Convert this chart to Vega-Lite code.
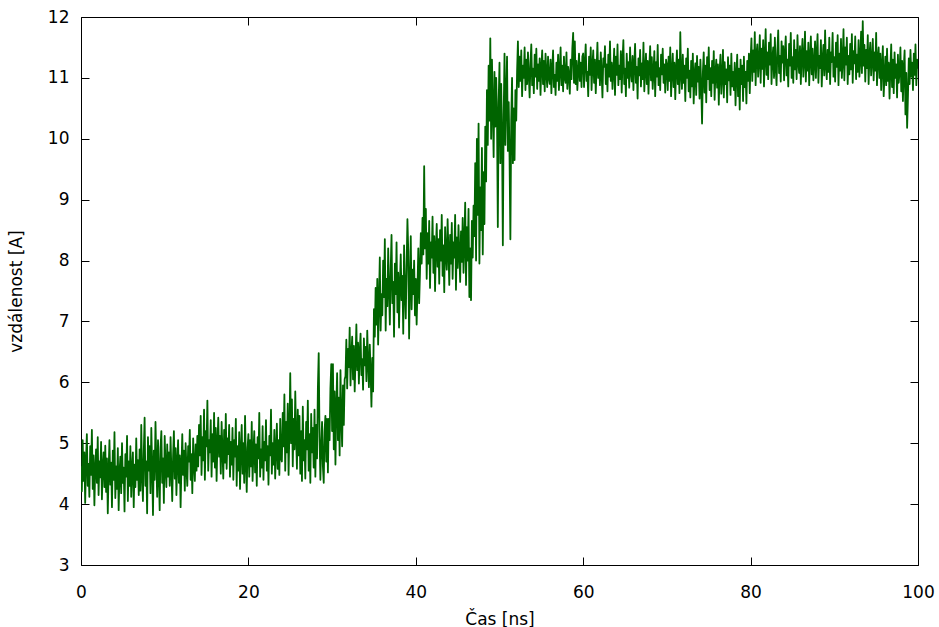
{
  "$schema": "https://vega.github.io/schema/vega-lite/v6.json",
  "width": 837,
  "height": 548,
  "autosize": {"type": "none"},
  "padding": {"left": 81, "top": 17, "right": 21, "bottom": 62},
  "background": "white",
  "datasets": {
    "traj": [
{"t":0,"d":4.62},{"t":0.1,"d":4.21},{"t":0.2,"d":5.05},{"t":0.3,"d":4.38},{"t":0.4,"d":4.85},{"t":0.5,"d":4.02},{"t":0.6,"d":4.71},{"t":0.7,"d":5.15},{"t":0.8,"d":4.30},{"t":0.9,"d":4.66},
{"t":1.0,"d":4.12},{"t":1.1,"d":4.95},{"t":1.2,"d":4.48},{"t":1.3,"d":5.22},{"t":1.4,"d":4.25},{"t":1.5,"d":4.80},{"t":1.6,"d":3.98},{"t":1.7,"d":4.58},{"t":1.8,"d":4.90},{"t":1.9,"d":4.35},
{"t":2.0,"d":5.10},{"t":2.1,"d":4.15},{"t":2.2,"d":4.70},{"t":2.3,"d":4.44},{"t":2.4,"d":5.02},{"t":2.5,"d":4.08},{"t":2.6,"d":4.62},{"t":2.7,"d":4.85},{"t":2.8,"d":4.28},{"t":2.9,"d":4.96},
{"t":3.0,"d":4.20},{"t":3.1,"d":4.75},{"t":3.2,"d":3.85},{"t":3.3,"d":4.55},{"t":3.4,"d":5.05},{"t":3.5,"d":4.32},{"t":3.6,"d":4.68},{"t":3.7,"d":3.95},{"t":3.8,"d":4.88},{"t":3.9,"d":4.40},
{"t":4.0,"d":5.18},{"t":4.1,"d":4.10},{"t":4.2,"d":4.62},{"t":4.3,"d":4.25},{"t":4.4,"d":4.92},{"t":4.5,"d":3.90},{"t":4.6,"d":4.50},{"t":4.7,"d":4.78},{"t":4.8,"d":4.18},{"t":4.9,"d":5.00},
{"t":5.0,"d":4.35},{"t":5.1,"d":4.60},{"t":5.2,"d":3.88},{"t":5.3,"d":4.82},{"t":5.4,"d":4.45},{"t":5.5,"d":5.12},{"t":5.6,"d":4.05},{"t":5.7,"d":4.70},{"t":5.8,"d":4.30},{"t":5.9,"d":4.95},
{"t":6.0,"d":4.12},{"t":6.1,"d":4.58},{"t":6.2,"d":4.85},{"t":6.3,"d":3.95},{"t":6.4,"d":4.65},{"t":6.5,"d":4.28},{"t":6.6,"d":5.08},{"t":6.7,"d":4.40},{"t":6.8,"d":4.72},{"t":6.9,"d":4.15},
{"t":7.0,"d":4.90},{"t":7.1,"d":4.22},{"t":7.2,"d":5.30},{"t":7.3,"d":4.48},{"t":7.4,"d":4.05},{"t":7.5,"d":4.85},{"t":7.6,"d":5.42},{"t":7.7,"d":4.30},{"t":7.8,"d":4.70},{"t":7.9,"d":3.85},
{"t":8.0,"d":5.10},{"t":8.1,"d":4.55},{"t":8.2,"d":4.95},{"t":8.3,"d":4.18},{"t":8.4,"d":5.25},{"t":8.5,"d":4.62},{"t":8.6,"d":3.82},{"t":8.7,"d":4.88},{"t":8.8,"d":4.40},{"t":8.9,"d":5.35},
{"t":9.0,"d":4.70},{"t":9.1,"d":4.12},{"t":9.2,"d":5.05},{"t":9.3,"d":4.50},{"t":9.4,"d":3.90},{"t":9.5,"d":4.92},{"t":9.6,"d":5.20},{"t":9.7,"d":4.35},{"t":9.8,"d":4.75},{"t":9.9,"d":4.02},
{"t":10.0,"d":5.12},{"t":10.1,"d":4.60},{"t":10.2,"d":4.28},{"t":10.3,"d":4.98},{"t":10.4,"d":4.45},
{"t":10.5,"d":4.85},{"t":10.6,"d":4.30},{"t":10.7,"d":5.10},{"t":10.8,"d":4.55},{"t":10.9,"d":4.05},{"t":11.0,"d":4.78},{"t":11.1,"d":5.20},{"t":11.2,"d":4.42},{"t":11.3,"d":4.92},{"t":11.4,"d":4.15},
{"t":11.5,"d":4.68},{"t":11.6,"d":5.05},{"t":11.7,"d":4.35},{"t":11.8,"d":4.80},{"t":11.9,"d":3.95},{"t":12.0,"d":4.62},{"t":12.1,"d":5.15},{"t":12.2,"d":4.48},{"t":12.3,"d":4.88},{"t":12.4,"d":4.22},
{"t":12.5,"d":5.00},{"t":12.6,"d":4.58},{"t":12.7,"d":4.30},{"t":12.8,"d":4.95},{"t":12.9,"d":4.70},{"t":13.0,"d":5.22},{"t":13.1,"d":4.40},{"t":13.2,"d":4.82},{"t":13.3,"d":4.18},{"t":13.4,"d":5.08},
{"t":13.5,"d":4.65},{"t":13.6,"d":4.38},{"t":13.7,"d":4.98},{"t":13.8,"d":4.55},{"t":13.9,"d":5.12},
{"t":14.0,"d":4.62},{"t":14.1,"d":5.30},{"t":14.2,"d":4.80},{"t":14.3,"d":5.45},{"t":14.4,"d":4.48},{"t":14.5,"d":5.10},{"t":14.6,"d":4.72},{"t":14.7,"d":5.55},{"t":14.8,"d":4.40},{"t":14.9,"d":5.20},
{"t":15.0,"d":4.95},{"t":15.1,"d":5.70},{"t":15.2,"d":4.55},{"t":15.3,"d":5.05},{"t":15.4,"d":4.85},{"t":15.5,"d":5.38},{"t":15.6,"d":4.45},{"t":15.7,"d":5.15},{"t":15.8,"d":4.70},{"t":15.9,"d":5.50},
{"t":16.0,"d":4.60},{"t":16.1,"d":5.25},{"t":16.2,"d":4.38},{"t":16.3,"d":5.00},{"t":16.4,"d":5.42},{"t":16.5,"d":4.78},{"t":16.6,"d":5.12},{"t":16.7,"d":4.50},{"t":16.8,"d":5.35},{"t":16.9,"d":4.88},
{"t":17.0,"d":4.42},{"t":17.1,"d":5.22},{"t":17.2,"d":4.68},{"t":17.3,"d":5.48},{"t":17.4,"d":4.58},{"t":17.5,"d":5.08},{"t":17.6,"d":4.82},{"t":17.7,"d":5.30},{"t":17.8,"d":4.45},{"t":17.9,"d":5.02},
{"t":18.0,"d":4.65},{"t":18.1,"d":5.25},{"t":18.2,"d":4.40},{"t":18.3,"d":5.05},{"t":18.4,"d":4.78},{"t":18.5,"d":5.40},{"t":18.6,"d":4.30},{"t":18.7,"d":4.95},{"t":18.8,"d":4.55},{"t":18.9,"d":5.18},
{"t":19.0,"d":4.25},{"t":19.1,"d":4.88},{"t":19.2,"d":5.30},{"t":19.3,"d":4.50},{"t":19.4,"d":5.00},{"t":19.5,"d":4.35},{"t":19.6,"d":5.45},{"t":19.7,"d":4.70},{"t":19.8,"d":4.20},{"t":19.9,"d":4.92},
{"t":20.0,"d":5.15},{"t":20.1,"d":4.45},{"t":20.2,"d":5.05},{"t":20.3,"d":4.62},{"t":20.4,"d":5.35},{"t":20.5,"d":4.38},{"t":20.6,"d":4.85},{"t":20.7,"d":5.20},{"t":20.8,"d":4.52},{"t":20.9,"d":4.98},
{"t":21.0,"d":4.30},{"t":21.1,"d":5.10},{"t":21.2,"d":4.75},{"t":21.3,"d":5.50},{"t":21.4,"d":4.45},{"t":21.5,"d":4.90},{"t":21.6,"d":4.60},{"t":21.7,"d":5.28},{"t":21.8,"d":4.40},{"t":21.9,"d":5.02},
{"t":22.0,"d":4.72},{"t":22.1,"d":5.38},{"t":22.2,"d":4.55},{"t":22.3,"d":4.95},{"t":22.4,"d":4.32},{"t":22.5,"d":5.12},{"t":22.6,"d":4.80},{"t":22.7,"d":5.55},{"t":22.8,"d":4.50},{"t":22.9,"d":5.00},
{"t":23.0,"d":4.65},{"t":23.1,"d":5.22},{"t":23.2,"d":4.42},{"t":23.3,"d":4.88},{"t":23.4,"d":5.32},{"t":23.5,"d":4.58},{"t":23.6,"d":5.05},{"t":23.7,"d":4.48},{"t":23.8,"d":5.40},{"t":23.9,"d":4.75},
{"t":24.0,"d":4.70},{"t":24.1,"d":5.50},{"t":24.2,"d":4.95},{"t":24.3,"d":5.80},{"t":24.4,"d":4.55},{"t":24.5,"d":5.35},{"t":24.6,"d":4.85},{"t":24.7,"d":5.65},{"t":24.8,"d":4.48},{"t":24.9,"d":5.20},
{"t":25.0,"d":6.15},{"t":25.1,"d":5.00},{"t":25.2,"d":5.72},{"t":25.3,"d":4.62},{"t":25.4,"d":5.40},{"t":25.5,"d":4.90},{"t":25.6,"d":5.85},{"t":25.7,"d":5.10},{"t":25.8,"d":4.58},{"t":25.9,"d":5.55},
{"t":26.0,"d":4.80},{"t":26.1,"d":5.45},{"t":26.2,"d":4.50},{"t":26.3,"d":5.20},{"t":26.4,"d":4.38},{"t":26.5,"d":5.60},{"t":26.6,"d":4.72},{"t":26.7,"d":5.05},{"t":26.8,"d":4.42},{"t":26.9,"d":5.35},
{"t":27.0,"d":4.90},{"t":27.1,"d":5.70},{"t":27.2,"d":4.55},{"t":27.3,"d":5.15},{"t":27.4,"d":4.35},{"t":27.5,"d":5.48},{"t":27.6,"d":4.85},{"t":27.7,"d":5.25},{"t":27.8,"d":4.60},{"t":27.9,"d":5.55},
{"t":28.0,"d":4.45},{"t":28.1,"d":5.30},{"t":28.2,"d":4.75},{"t":28.3,"d":5.90},{"t":28.4,"d":6.48},{"t":28.5,"d":5.10},{"t":28.6,"d":4.40},{"t":28.7,"d":4.95},{"t":28.8,"d":5.35},{"t":28.9,"d":4.62},
{"t":29.0,"d":4.35},{"t":29.1,"d":5.20},{"t":29.2,"d":5.45},{"t":29.3,"d":4.70},{"t":29.4,"d":5.40},{"t":29.5,"d":4.52},{"t":29.6,"d":5.40},{"t":29.7,"d":5.05},{"t":29.8,"d":5.90},{"t":29.9,"d":6.30},
{"t":30.0,"d":5.20},{"t":30.1,"d":6.30},{"t":30.2,"d":4.90},{"t":30.3,"d":5.85},{"t":30.4,"d":4.65},{"t":30.5,"d":5.60},{"t":30.6,"d":6.15},{"t":30.7,"d":5.05},{"t":30.8,"d":5.75},{"t":30.9,"d":4.80},
{"t":31.0,"d":6.20},{"t":31.1,"d":5.40},{"t":31.2,"d":4.95},{"t":31.3,"d":5.95},{"t":31.4,"d":5.30},{"t":31.5,"d":6.05},
{"t":31.6,"d":6.10},{"t":31.7,"d":6.70},{"t":31.8,"d":5.90},{"t":31.9,"d":6.55},{"t":32.0,"d":6.25},{"t":32.1,"d":6.90},{"t":32.2,"d":5.95},{"t":32.3,"d":6.45},{"t":32.4,"d":6.75},{"t":32.5,"d":6.05},
{"t":32.6,"d":6.60},{"t":32.7,"d":5.85},{"t":32.8,"d":6.40},{"t":32.9,"d":6.95},{"t":33.0,"d":6.20},{"t":33.1,"d":6.65},{"t":33.2,"d":5.98},{"t":33.3,"d":6.50},{"t":33.4,"d":6.80},{"t":33.5,"d":6.12},
{"t":33.6,"d":6.38},{"t":33.7,"d":5.88},{"t":33.8,"d":6.72},{"t":33.9,"d":6.28},{"t":34.0,"d":6.58},{"t":34.1,"d":6.02},{"t":34.2,"d":6.85},{"t":34.3,"d":6.32},{"t":34.4,"d":5.92},{"t":34.5,"d":6.62},
{"t":34.6,"d":6.18},{"t":34.7,"d":5.60},{"t":34.8,"d":6.40},{"t":34.9,"d":5.85},
{"t":35.0,"d":7.20},{"t":35.1,"d":6.75},{"t":35.2,"d":7.55},{"t":35.3,"d":6.95},{"t":35.4,"d":7.70},{"t":35.5,"d":6.62},{"t":35.6,"d":7.35},{"t":35.7,"d":8.05},{"t":35.8,"d":6.85},{"t":35.9,"d":7.45},
{"t":36.0,"d":7.10},{"t":36.1,"d":8.00},{"t":36.2,"d":7.40},{"t":36.3,"d":8.35},{"t":36.4,"d":6.85},{"t":36.5,"d":7.70},{"t":36.6,"d":7.25},{"t":36.7,"d":8.20},{"t":36.8,"d":7.55},{"t":36.9,"d":6.95},
{"t":37.0,"d":7.85},{"t":37.1,"d":8.42},{"t":37.2,"d":7.30},{"t":37.3,"d":7.65},{"t":37.4,"d":6.75},{"t":37.5,"d":7.95},{"t":37.6,"d":7.45},{"t":37.7,"d":8.30},{"t":37.8,"d":7.15},{"t":37.9,"d":7.80},
{"t":38.0,"d":6.90},{"t":38.1,"d":7.60},{"t":38.2,"d":8.10},{"t":38.3,"d":7.35},{"t":38.4,"d":7.75},{"t":38.5,"d":6.80},{"t":38.6,"d":8.25},{"t":38.7,"d":7.50},{"t":38.8,"d":7.05},{"t":38.9,"d":7.90},
{"t":39.0,"d":8.68},{"t":39.1,"d":8.15},{"t":39.2,"d":6.72},{"t":39.3,"d":7.62},{"t":39.4,"d":8.40},{"t":39.5,"d":7.20},{"t":39.6,"d":7.85},{"t":39.7,"d":7.45},{"t":39.8,"d":8.00},{"t":39.9,"d":7.10},
{"t":40.0,"d":7.70},{"t":40.1,"d":6.95},{"t":40.2,"d":7.55},{"t":40.3,"d":8.20},{"t":40.4,"d":7.30},
{"t":40.5,"d":7.80},{"t":40.6,"d":8.45},{"t":40.7,"d":7.95},{"t":40.8,"d":8.70},{"t":40.9,"d":8.10},
{"t":41.0,"d":9.55},{"t":41.1,"d":8.20},{"t":41.2,"d":8.85},
{"t":41.3,"d":7.70},{"t":41.4,"d":8.45},{"t":41.5,"d":7.95},{"t":41.6,"d":8.65},{"t":41.7,"d":7.55},{"t":41.8,"d":8.30},{"t":41.9,"d":8.05},{"t":42.0,"d":8.72},{"t":42.1,"d":7.80},{"t":42.2,"d":8.40},
{"t":42.3,"d":7.50},{"t":42.4,"d":8.20},{"t":42.5,"d":8.60},{"t":42.6,"d":7.90},{"t":42.7,"d":8.35},{"t":42.8,"d":7.62},{"t":42.9,"d":8.50},{"t":43.0,"d":8.00},{"t":43.1,"d":8.75},{"t":43.2,"d":7.75},
{"t":43.3,"d":8.25},{"t":43.4,"d":7.48},{"t":43.5,"d":8.55},{"t":43.6,"d":8.10},{"t":43.7,"d":7.85},{"t":43.8,"d":8.68},{"t":43.9,"d":8.15},{"t":44.0,"d":7.60},{"t":44.1,"d":8.42},{"t":44.2,"d":7.95},
{"t":44.3,"d":8.62},{"t":44.4,"d":7.70},{"t":44.5,"d":8.30},{"t":44.6,"d":8.05},{"t":44.7,"d":8.75},{"t":44.8,"d":7.52},{"t":44.9,"d":8.38},{"t":45.0,"d":7.88},{"t":45.1,"d":8.58},{"t":45.2,"d":8.12},
{"t":45.3,"d":7.65},{"t":45.4,"d":8.48},{"t":45.5,"d":7.98},{"t":45.6,"d":8.70},{"t":45.7,"d":7.80},
{"t":45.8,"d":8.30},{"t":45.9,"d":8.95},{"t":46.0,"d":7.60},{"t":46.1,"d":8.55},{"t":46.2,"d":8.00},{"t":46.3,"d":8.85},{"t":46.4,"d":7.40},{"t":46.5,"d":8.20},{"t":46.6,"d":7.35},{"t":46.7,"d":8.65},{"t":46.8,"d":8.05},{"t":46.9,"d":8.90},
{"t":47.0,"d":8.40},{"t":47.1,"d":9.60},{"t":47.2,"d":8.00},{"t":47.3,"d":10.00},{"t":47.4,"d":8.75},{"t":47.5,"d":10.25},{"t":47.6,"d":7.95},{"t":47.7,"d":9.20},{"t":47.8,"d":8.50},{"t":47.9,"d":9.85},{"t":48.0,"d":8.10},{"t":48.1,"d":9.45},{"t":48.2,"d":8.60},{"t":48.3,"d":10.20},
{"t":48.4,"d":9.30},{"t":48.5,"d":10.80},{"t":48.6,"d":9.90},{"t":48.7,"d":11.20},{"t":48.8,"d":10.30},{"t":48.9,"d":11.65},{"t":49.0,"d":10.00},{"t":49.1,"d":11.30},{"t":49.2,"d":10.50},{"t":49.3,"d":9.70},{"t":49.4,"d":11.10},
{"t":49.5,"d":10.20},{"t":49.6,"d":11.00},{"t":49.7,"d":10.40},{"t":49.8,"d":8.55},{"t":49.9,"d":10.60},{"t":50.0,"d":11.25},{"t":50.1,"d":9.60},{"t":50.2,"d":10.90},{"t":50.3,"d":10.10},{"t":50.4,"d":8.25},
{"t":50.5,"d":10.40},{"t":50.6,"d":11.40},{"t":50.7,"d":9.90},{"t":50.8,"d":10.70},{"t":50.9,"d":11.35},{"t":51.0,"d":9.80},{"t":51.1,"d":10.60},{"t":51.2,"d":9.70},{"t":51.3,"d":8.35},{"t":51.4,"d":10.30},
{"t":51.5,"d":11.00},{"t":51.6,"d":9.60},{"t":51.7,"d":10.50},{"t":51.8,"d":9.65},{"t":51.9,"d":10.80},{"t":52.0,"d":10.30},{"t":52.1,"d":11.10},
{"t":52.2,"d":11.60},{"t":52.3,"d":10.85},{"t":52.4,"d":11.35},{"t":52.5,"d":10.95},{"t":52.6,"d":11.45},{"t":52.7,"d":10.70},{"t":52.8,"d":11.20},{"t":52.9,"d":11.00},{"t":53.0,"d":11.50},{"t":53.1,"d":10.80},
{"t":53.2,"d":11.30},{"t":53.3,"d":10.90},{"t":53.4,"d":11.42},{"t":53.5,"d":11.05},{"t":53.6,"d":10.68},{"t":53.7,"d":11.25},{"t":53.8,"d":11.55},{"t":53.9,"d":10.88},{"t":54.0,"d":11.15},{"t":54.1,"d":10.75},
{"t":54.2,"d":11.38},{"t":54.3,"d":11.02},{"t":54.4,"d":11.48},{"t":54.5,"d":10.82},{"t":54.6,"d":11.22},{"t":54.7,"d":10.95},{"t":54.8,"d":11.32},{"t":54.9,"d":10.72},{"t":55.0,"d":11.18},{"t":55.1,"d":11.45},
{"t":55.2,"d":10.90},{"t":55.3,"d":11.28},{"t":55.4,"d":10.78},{"t":55.5,"d":11.40},{"t":55.6,"d":11.08},{"t":55.7,"d":10.85},{"t":55.8,"d":11.35},{"t":55.9,"d":11.00},
{"t":56.0,"d":10.90},{"t":56.1,"d":11.30},{"t":56.2,"d":10.75},{"t":56.3,"d":11.15},{"t":56.4,"d":11.45},{"t":56.5,"d":10.85},{"t":56.6,"d":11.05},{"t":56.7,"d":10.72},{"t":56.8,"d":11.25},{"t":56.9,"d":10.95},
{"t":57.0,"d":11.38},{"t":57.1,"d":10.80},{"t":57.2,"d":11.12},{"t":57.3,"d":11.50},{"t":57.4,"d":10.88},{"t":57.5,"d":11.20},{"t":57.6,"d":10.78},{"t":57.7,"d":11.35},{"t":57.8,"d":11.00},{"t":57.9,"d":10.92},
{"t":58.0,"d":11.42},{"t":58.1,"d":10.82},{"t":58.2,"d":11.18},{"t":58.3,"d":11.05},{"t":58.4,"d":10.74},{"t":58.5,"d":11.30},{"t":58.6,"d":10.98},{"t":58.7,"d":11.48},{"t":58.8,"d":11.74},{"t":58.9,"d":10.92},
{"t":59.0,"d":11.60},{"t":59.1,"d":10.90},{"t":59.2,"d":11.28},{"t":59.3,"d":10.80},{"t":59.4,"d":11.10},{"t":59.5,"d":11.40},{"t":59.6,"d":10.95},{"t":59.7,"d":11.25},{"t":59.8,"d":10.85},{"t":59.9,"d":11.35},
{"t":60.0,"d":11.40},{"t":60.1,"d":10.85},{"t":60.2,"d":11.25},{"t":60.3,"d":11.55},{"t":60.4,"d":10.95},{"t":60.5,"d":11.10},{"t":60.6,"d":10.70},{"t":60.7,"d":11.35},{"t":60.8,"d":11.05},{"t":60.9,"d":11.50},
{"t":61.0,"d":10.80},{"t":61.1,"d":11.20},{"t":61.2,"d":11.45},{"t":61.3,"d":10.92},{"t":61.4,"d":11.30},{"t":61.5,"d":10.75},{"t":61.6,"d":11.15},{"t":61.7,"d":11.58},{"t":61.8,"d":11.00},{"t":61.9,"d":11.28},
{"t":62.0,"d":10.88},{"t":62.1,"d":11.42},{"t":62.2,"d":11.08},{"t":62.3,"d":10.68},{"t":62.4,"d":11.32},{"t":62.5,"d":11.18},{"t":62.6,"d":11.52},{"t":62.7,"d":10.90},{"t":62.8,"d":11.22},{"t":62.9,"d":10.78},
{"t":63.0,"d":11.38},{"t":63.1,"d":11.02},{"t":63.2,"d":11.60},{"t":63.3,"d":10.95},{"t":63.4,"d":11.25},{"t":63.5,"d":10.82},{"t":63.6,"d":11.12},{"t":63.7,"d":11.48},{"t":63.8,"d":10.72},{"t":63.9,"d":11.35},
{"t":64.0,"d":11.05},{"t":64.1,"d":11.55},{"t":64.2,"d":10.88},{"t":64.3,"d":11.20},{"t":64.4,"d":10.98},{"t":64.5,"d":11.44},{"t":64.6,"d":10.76},{"t":64.7,"d":11.30},{"t":64.8,"d":11.62},{"t":64.9,"d":10.90},
{"t":65.0,"d":11.15},{"t":65.1,"d":10.70},{"t":65.2,"d":11.40},{"t":65.3,"d":11.00},{"t":65.4,"d":11.26},{"t":65.5,"d":10.84},{"t":65.6,"d":11.50},{"t":65.7,"d":11.10},{"t":65.8,"d":10.94},{"t":65.9,"d":11.36},
{"t":66.0,"d":10.80},{"t":66.1,"d":11.22},{"t":66.2,"d":11.56},{"t":66.3,"d":10.92},{"t":66.4,"d":11.18},{"t":66.5,"d":10.66},{"t":66.6,"d":11.32},{"t":66.7,"d":11.04},{"t":66.8,"d":11.46},{"t":66.9,"d":10.86},
{"t":67.0,"d":11.24},{"t":67.1,"d":10.98},{"t":67.2,"d":11.58},{"t":67.3,"d":10.78},{"t":67.4,"d":11.14},{"t":67.5,"d":11.40},{"t":67.6,"d":10.90},{"t":67.7,"d":11.28},{"t":67.8,"d":10.74},{"t":67.9,"d":11.20},
{"t":68.0,"d":11.52},{"t":68.1,"d":10.96},{"t":68.2,"d":11.34},{"t":68.3,"d":10.82},{"t":68.4,"d":11.10},{"t":68.5,"d":11.44},{"t":68.6,"d":10.70},{"t":68.7,"d":11.26},{"t":68.8,"d":11.02},{"t":68.9,"d":11.54},
{"t":69.0,"d":10.88},{"t":69.1,"d":11.16},{"t":69.2,"d":10.80},{"t":69.3,"d":11.38},{"t":69.4,"d":11.06},{"t":69.5,"d":11.48},{"t":69.6,"d":10.92},{"t":69.7,"d":11.22},{"t":69.8,"d":10.76},{"t":69.9,"d":11.30},
{"t":70.0,"d":11.20},{"t":70.1,"d":10.80},{"t":70.2,"d":11.35},{"t":70.3,"d":10.95},{"t":70.4,"d":11.50},{"t":70.5,"d":10.70},{"t":70.6,"d":11.10},{"t":70.7,"d":11.40},{"t":70.8,"d":10.85},{"t":70.9,"d":11.25},
{"t":71.0,"d":10.65},{"t":71.1,"d":11.15},{"t":71.2,"d":11.45},{"t":71.3,"d":10.90},{"t":71.4,"d":11.30},{"t":71.5,"d":10.75},{"t":71.6,"d":11.75},{"t":71.7,"d":11.05},{"t":71.8,"d":10.82},{"t":71.9,"d":11.38},
{"t":72.0,"d":10.92},{"t":72.1,"d":11.20},{"t":72.2,"d":10.62},{"t":72.3,"d":11.32},{"t":72.4,"d":11.00},{"t":72.5,"d":11.48},{"t":72.6,"d":10.78},{"t":72.7,"d":11.12},{"t":72.8,"d":10.68},{"t":72.9,"d":11.28},
{"t":73.0,"d":10.86},{"t":73.1,"d":11.40},{"t":73.2,"d":10.58},{"t":73.3,"d":11.06},{"t":73.4,"d":11.24},{"t":73.5,"d":10.72},{"t":73.6,"d":11.36},{"t":73.7,"d":10.94},{"t":73.8,"d":11.18},{"t":73.9,"d":10.66},
{"t":74.0,"d":11.30},{"t":74.1,"d":10.88},{"t":74.2,"d":10.25},{"t":74.3,"d":11.10},{"t":74.4,"d":11.42},{"t":74.5,"d":10.76},{"t":74.6,"d":11.20},{"t":74.7,"d":10.60},{"t":74.8,"d":11.34},{"t":74.9,"d":10.98},
{"t":75.0,"d":11.50},{"t":75.1,"d":10.80},{"t":75.2,"d":11.16},{"t":75.3,"d":10.70},{"t":75.4,"d":11.28},{"t":75.5,"d":10.92},{"t":75.6,"d":11.44},{"t":75.7,"d":10.64},{"t":75.8,"d":11.08},{"t":75.9,"d":11.30},
{"t":76.0,"d":10.84},{"t":76.1,"d":11.22},{"t":76.2,"d":10.56},{"t":76.3,"d":11.12},{"t":76.4,"d":11.38},{"t":76.5,"d":10.74},{"t":76.6,"d":11.02},{"t":76.7,"d":11.46},{"t":76.8,"d":10.68},{"t":76.9,"d":11.26},
{"t":77.0,"d":10.90},{"t":77.1,"d":11.14},{"t":77.2,"d":10.60},{"t":77.3,"d":11.34},{"t":77.4,"d":10.96},{"t":77.5,"d":11.20},{"t":77.6,"d":10.72},{"t":77.7,"d":11.40},{"t":77.8,"d":10.86},{"t":77.9,"d":11.10},
{"t":78.0,"d":10.80},{"t":78.1,"d":11.25},{"t":78.2,"d":10.55},{"t":78.3,"d":11.05},{"t":78.4,"d":11.38},{"t":78.5,"d":10.70},{"t":78.6,"d":11.15},{"t":78.7,"d":10.48},{"t":78.8,"d":11.30},{"t":78.9,"d":10.90},
{"t":79.0,"d":11.20},{"t":79.1,"d":10.62},{"t":79.2,"d":11.35},{"t":79.3,"d":10.85},{"t":79.4,"d":11.10},{"t":79.5,"d":10.58},{"t":79.6,"d":11.28},{"t":79.7,"d":10.95},{"t":79.8,"d":11.40},{"t":79.9,"d":10.75},
{"t":80.0,"d":11.30},{"t":80.1,"d":11.65},{"t":80.2,"d":10.95},{"t":80.3,"d":11.45},{"t":80.4,"d":11.10},{"t":80.5,"d":11.75},{"t":80.6,"d":10.88},{"t":80.7,"d":11.38},{"t":80.8,"d":11.55},{"t":80.9,"d":11.02},
{"t":81.0,"d":11.28},{"t":81.1,"d":11.70},{"t":81.2,"d":10.92},{"t":81.3,"d":11.48},{"t":81.4,"d":11.15},{"t":81.5,"d":11.62},{"t":81.6,"d":10.86},{"t":81.7,"d":11.35},{"t":81.8,"d":11.80},{"t":81.9,"d":11.05},
{"t":82.0,"d":11.42},{"t":82.1,"d":10.98},{"t":82.2,"d":11.58},{"t":82.3,"d":11.22},{"t":82.4,"d":11.72},{"t":82.5,"d":10.90},{"t":82.6,"d":11.32},{"t":82.7,"d":11.50},{"t":82.8,"d":11.00},{"t":82.9,"d":11.66},
{"t":83.0,"d":11.18},{"t":83.1,"d":10.88},{"t":83.2,"d":11.44},{"t":83.3,"d":11.78},{"t":83.4,"d":11.08},{"t":83.5,"d":11.36},{"t":83.6,"d":10.94},{"t":83.7,"d":11.60},{"t":83.8,"d":11.25},{"t":83.9,"d":11.52},
{"t":84.0,"d":10.96},{"t":84.1,"d":11.40},{"t":84.2,"d":11.68},{"t":84.3,"d":11.04},{"t":84.4,"d":11.30},{"t":84.5,"d":10.86},{"t":84.6,"d":11.56},{"t":84.7,"d":11.20},{"t":84.8,"d":11.74},{"t":84.9,"d":11.00},
{"t":85.0,"d":11.34},{"t":85.1,"d":10.92},{"t":85.2,"d":11.62},{"t":85.3,"d":11.14},{"t":85.4,"d":11.46},{"t":85.5,"d":10.98},{"t":85.6,"d":11.70},{"t":85.7,"d":11.26},{"t":85.8,"d":11.08},{"t":85.9,"d":11.52},
{"t":86.0,"d":10.90},{"t":86.1,"d":11.38},{"t":86.2,"d":11.64},{"t":86.3,"d":11.02},{"t":86.4,"d":11.28},{"t":86.5,"d":11.76},{"t":86.6,"d":10.94},{"t":86.7,"d":11.44},{"t":86.8,"d":11.12},{"t":86.9,"d":11.58},
{"t":87.0,"d":10.88},{"t":87.1,"d":11.32},{"t":87.2,"d":11.68},{"t":87.3,"d":11.06},{"t":87.4,"d":11.48},{"t":87.5,"d":10.96},{"t":87.6,"d":11.24},{"t":87.7,"d":11.60},{"t":87.8,"d":11.00},{"t":87.9,"d":11.40},
{"t":88.0,"d":11.72},{"t":88.1,"d":10.92},{"t":88.2,"d":11.36},{"t":88.3,"d":11.16},{"t":88.4,"d":11.62},{"t":88.5,"d":10.86},{"t":88.6,"d":11.30},{"t":88.7,"d":11.54},{"t":88.8,"d":11.04},{"t":88.9,"d":11.78},
{"t":89.0,"d":11.20},{"t":89.1,"d":10.98},{"t":89.2,"d":11.46},{"t":89.3,"d":11.10},{"t":89.4,"d":11.66},{"t":89.5,"d":10.90},{"t":89.6,"d":11.42},{"t":89.7,"d":11.26},{"t":89.8,"d":11.74},{"t":89.9,"d":11.02},
{"t":90.0,"d":11.34},{"t":90.1,"d":10.94},{"t":90.2,"d":11.58},{"t":90.3,"d":11.18},{"t":90.4,"d":11.70},{"t":90.5,"d":10.88},{"t":90.6,"d":11.40},{"t":90.7,"d":11.12},{"t":90.8,"d":11.64},{"t":90.9,"d":11.00},
{"t":91.0,"d":11.28},{"t":91.1,"d":11.80},{"t":91.2,"d":10.96},{"t":91.3,"d":11.50},{"t":91.4,"d":11.22},{"t":91.5,"d":11.66},{"t":91.6,"d":10.90},{"t":91.7,"d":11.36},{"t":91.8,"d":11.06},{"t":91.9,"d":11.56},
{"t":92.0,"d":11.14},{"t":92.1,"d":11.72},{"t":92.2,"d":10.92},{"t":92.3,"d":11.44},{"t":92.4,"d":11.24},{"t":92.5,"d":11.68},{"t":92.6,"d":10.98},{"t":92.7,"d":11.38},{"t":92.8,"d":11.10},{"t":92.9,"d":11.62},
{"t":93.0,"d":11.02},{"t":93.1,"d":11.30},{"t":93.2,"d":11.76},{"t":93.3,"d":11.08},{"t":93.4,"d":11.93},{"t":93.5,"d":11.20},{"t":93.6,"d":11.54},{"t":93.7,"d":10.94},{"t":93.8,"d":11.46},{"t":93.9,"d":11.16},
{"t":94.0,"d":11.70},{"t":94.1,"d":10.90},{"t":94.2,"d":11.36},{"t":94.3,"d":11.58},{"t":94.4,"d":11.04},{"t":94.5,"d":11.28},{"t":94.6,"d":11.64},{"t":94.7,"d":10.96},{"t":94.8,"d":11.42},{"t":94.9,"d":11.12},
{"t":95.0,"d":11.74},{"t":95.1,"d":10.88},{"t":95.2,"d":11.32},{"t":95.3,"d":11.50},{"t":95.4,"d":11.00},
{"t":95.5,"d":11.40},{"t":95.6,"d":10.80},{"t":95.7,"d":11.20},{"t":95.8,"d":11.52},{"t":95.9,"d":10.70},{"t":96.0,"d":11.05},{"t":96.1,"d":11.35},{"t":96.2,"d":10.88},{"t":96.3,"d":11.48},{"t":96.4,"d":10.95},
{"t":96.5,"d":11.25},{"t":96.6,"d":10.66},{"t":96.7,"d":11.15},{"t":96.8,"d":11.55},{"t":96.9,"d":10.85},{"t":97.0,"d":11.30},{"t":97.1,"d":10.75},{"t":97.2,"d":11.42},{"t":97.3,"d":11.00},{"t":97.4,"d":11.22},
{"t":97.5,"d":10.68},{"t":97.6,"d":11.38},{"t":97.7,"d":10.92},{"t":97.8,"d":11.10},{"t":97.9,"d":11.50},{"t":98.0,"d":10.78},{"t":98.1,"d":11.28},{"t":98.2,"d":10.62},{"t":98.3,"d":11.18},{"t":98.4,"d":11.45},
{"t":98.5,"d":10.40},{"t":98.6,"d":11.08},{"t":98.7,"d":10.18},{"t":98.8,"d":10.70},{"t":98.9,"d":11.32},{"t":99.0,"d":10.90},{"t":99.1,"d":11.46},{"t":99.2,"d":11.02},{"t":99.3,"d":11.25},{"t":99.4,"d":10.80},
{"t":99.5,"d":11.40},{"t":99.6,"d":11.05},{"t":99.7,"d":11.55},{"t":99.8,"d":10.88},{"t":99.9,"d":11.30},{"t":100.0,"d":11.15}
    ],
    "frame": [{"t": 0, "d": 3}, {"t": 100, "d": 12}]
  },
  "layer": [
    {
      "data": {"name": "traj"},
      "mark": {"type": "line", "color": "#006400", "strokeWidth": 1.8, "strokeJoin": "round", "clip": true},
      "encoding": {
        "x": {
          "field": "t", "type": "quantitative",
          "scale": {"domain": [0, 100], "nice": false, "zero": false},
          "axis": {"orient": "bottom", "values": [0, 20, 40, 60, 80, 100], "title": "Čas [ns]", "labelPadding": 27, "titlePadding": 11, "labelFlush": false}
        },
        "y": {
          "field": "d", "type": "quantitative",
          "scale": {"domain": [3, 12], "nice": false, "zero": false},
          "axis": {"orient": "left", "values": [3, 4, 5, 6, 7, 8, 9, 10, 11, 12], "title": "vzdálenost [A]", "labelPadding": 20, "titlePadding": 22, "labelFlush": false}
        }
      }
    },
    {
      "data": {"name": "frame"},
      "mark": {"type": "point", "opacity": 0},
      "encoding": {
        "x": {
          "field": "t", "type": "quantitative",
          "axis": {"orient": "top", "values": [0, 20, 40, 60, 80, 100], "labels": false, "title": null}
        },
        "y": {
          "field": "d", "type": "quantitative",
          "axis": {"orient": "right", "values": [3, 4, 5, 6, 7, 8, 9, 10, 11, 12], "labels": false, "title": null}
        }
      }
    }
  ],
  "resolve": {"axis": {"x": "independent", "y": "independent"}},
  "config": {
    "view": {"stroke": null},
    "axis": {
      "grid": false,
      "domainColor": "#000000",
      "domainWidth": 1,
      "tickColor": "#000000",
      "tickWidth": 1,
      "tickSize": -8,
      "labelColor": "#000000",
      "labelFont": "DejaVu Sans",
      "labelFontSize": 17,
      "titleColor": "#000000",
      "titleFont": "DejaVu Sans",
      "titleFontSize": 17,
      "titleFontWeight": "normal"
    }
  }
}
